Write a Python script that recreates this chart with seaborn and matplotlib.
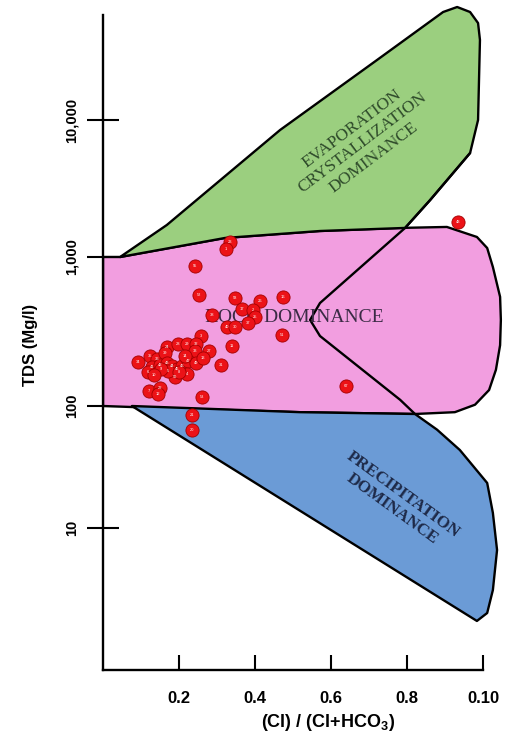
import numpy as np
import matplotlib
matplotlib.use("Agg")
import matplotlib.pyplot as plt
import seaborn as sns
import pandas as pd
from matplotlib.ticker import NullLocator

# ---------------- data ----------------
sample_ids = ["23", "1", "55", "52", "58", "26", "16", "17", "2", "25", "37", "38",
              "40", "30", "51", "3", "11", "27", "31", "53", "21", "20", "7", "22",
              "12", "67", "48", "24", "28", "29", "32", "33", "34", "35", "36", "39",
              "41", "42", "43", "44", "45", "46", "47", "49", "50", "4", "5", "6",
              "8", "9", "10", "13", "14"]
cl_ratio = [0.334, 0.324, 0.242, 0.253, 0.347, 0.413, 0.474, 0.366, 0.395, 0.400, 0.382, 0.287,
            0.326, 0.347, 0.471, 0.258, 0.339, 0.279, 0.311, 0.261, 0.234, 0.234, 0.121, 0.150,
            0.145, 0.639, 0.934, 0.168, 0.197, 0.221, 0.245, 0.242, 0.092, 0.124, 0.142, 0.163,
            0.129, 0.150, 0.168, 0.182, 0.195, 0.208, 0.224, 0.245, 0.189, 0.221, 0.171, 0.118,
            0.200, 0.153, 0.134, 0.263, 0.216]
tds_mg_l = [1290, 1140, 870, 555, 530, 505, 540, 448, 441, 395, 361, 408,
            339, 339, 300, 295, 253, 234, 188, 115, 84, 64, 126, 132,
            120, 136, 1800, 249, 261, 261, 261, 234, 197, 217, 207, 227,
            183, 188, 194, 185, 177, 185, 200, 194, 157, 164, 172, 169,
            169, 177, 161, 210, 217]

# Gibbs field outlines (x = Cl/(Cl+HCO3), y = TDS)
evap_x = [0.045, 0.168, 0.466, 0.721, 0.895, 0.932, 0.966, 0.987, 0.992, 0.987, 0.966,
          0.861, 0.795, 0.571, 0.321, 0.045]
evap_tds = [1000, 1713, 8453, 27400, 61400, 66800, 61400, 51000, 38400, 10000, 5740,
            2606, 1630, 1548, 1377, 1000]
rock_x = [0.0, 0.045, 0.321, 0.571, 0.782, 0.905, 0.984, 1.011, 1.026, 1.045, 1.047,
          1.045, 1.034, 1.016, 0.979, 0.926, 0.821, 0.518, 0.079, 0.0]
rock_tds = [1000, 1000, 1377, 1548, 1630, 1657, 1400, 1163, 857, 540, 378,
            256, 175, 128, 102, 89, 86, 89, 98, 100]
prec_x = [0.076, 0.518, 0.821, 0.879, 0.939, 1.011, 1.026, 1.037, 1.026, 1.011, 0.984, 0.076]
prec_tds = [100, 89, 86, 64, 43.6, 23.4, 13.3, 6.6, 3.1, 2.01, 1.73, 100]
divider_x = [0.966, 0.861, 0.795, 0.571, 0.545, 0.571, 0.782, 0.821]
divider_tds = [5740, 2606, 1630, 491, 378, 295, 110, 86]

x_ticks = [0.2, 0.4, 0.6, 0.8, 1.0]
x_tick_labels = ["0.2", "0.4", "0.6", "0.8", "0.10"]
y_ticks = [10, 100, 1000, 10000]
y_tick_labels = ["10", "100", "1,000", "10,000"]

# ---------------- style ----------------
sns.set_theme(style="white")
plt.rcParams['font.family'] = ['Liberation Sans', 'DejaVu Sans']
plt.rcParams['mathtext.fontset'] = 'custom'
plt.rcParams['mathtext.rm'] = 'Liberation Sans'
plt.rcParams['mathtext.bf'] = 'Liberation Sans:bold'

# hand-drawn log axis: decades are not evenly spaced in the source figure
LOGS = np.array([-3.0, 1.0, 2.0, 3.0, 9.0])
SPOS = np.array([142 - 4 * 122, 142, 264, 413, 413 + 6 * 137], float)


def fwd(y):
    y = np.asarray(y, float)
    return np.interp(np.log10(np.clip(y, 1e-3, None)), LOGS, SPOS)


def inv(s):
    return 10 ** np.interp(np.asarray(s, float), SPOS, LOGS)


fig = plt.figure(figsize=(5.06, 7.36), dpi=100)
fig.patch.set_facecolor("white")
ax = fig.add_axes([103 / 506, 66 / 736, 1.06 * 380 / 506, 667 / 736])
ax.set_facecolor("white")
ax.set_yscale('function', functions=(fwd, inv))
ax.set_xlim(0, 1.06)
ax.set_ylim(float(inv(0)), float(inv(667)))

edge_kw = dict(edgecolor="black", linewidth=1.7, joinstyle="round")
ax.fill(rock_x, rock_tds, facecolor="#f29ee0", zorder=1, **edge_kw)
ax.fill(evap_x, evap_tds, facecolor="#9bcf7f", zorder=1, **edge_kw)
ax.fill(prec_x, prec_tds, facecolor="#6b9bd6", zorder=1, **edge_kw)
ax.plot(divider_x, divider_tds, color="black", linewidth=1.7, zorder=1.5,
        solid_joinstyle="round")

# field names
ax.text(0.476, 0.529, "ROCK DOMINANCE", transform=ax.transAxes, fontsize=14,
        family="Liberation Serif", color="#3b2b45", ha="center", va="center", zorder=2)
ax.text(0.645, 0.790, "EVAPORATION\nCRYSTALLIZATION\nDOMINANCE", transform=ax.transAxes,
        fontsize=12.5, family="Liberation Serif", color="#2e4a2a", ha="center",
        va="center", rotation=37, rotation_mode="anchor", multialignment="center",
        linespacing=1.15, zorder=2)
ax.text(0.732, 0.252, "PRECIPITATION\nDOMINANCE", transform=ax.transAxes,
        fontsize=12.3, family="Liberation Serif", fontweight="bold", color="#1e2a48",
        ha="center", va="center", rotation=-36, rotation_mode="anchor",
        multialignment="center", linespacing=1.15, zorder=2)

# samples
df = pd.DataFrame({"id": sample_ids, "ratio": cl_ratio, "tds": tds_mg_l})
sns.scatterplot(data=df, x="ratio", y="tds", s=90, color="#ec1217",
                edgecolor="#a30000", linewidth=0.6, zorder=3, ax=ax, legend=False)
for r in df.itertuples():
    ax.text(r.ratio, r.tds, r.id, fontsize=2.9, color="white", ha="center",
            va="center", zorder=4)

# axes
for side in ["top", "right"]:
    ax.spines[side].set_visible(False)
for side in ["left", "bottom"]:
    ax.spines[side].set_linewidth(1.7)
    ax.spines[side].set_color("black")
ax.spines["left"].set_bounds(float(inv(0)), float(inv(655)))
ax.spines["bottom"].set_bounds(0, 1.0)

ax.set_xticks(x_ticks, x_tick_labels)
ax.set_yticks(y_ticks, y_tick_labels)
ax.yaxis.set_minor_locator(NullLocator())
ax.xaxis.set_minor_locator(NullLocator())
ax.tick_params(axis="y", left=True, direction="inout", length=23, width=1.5,
               color="black", pad=6, labelsize=10.5, labelrotation=90, labelcolor="black")
ax.tick_params(axis="x", bottom=True, direction="in", length=11, width=1.5,
               color="black", pad=15, labelsize=12, labelcolor="black")
for lab in ax.get_yticklabels():
    lab.set_fontweight("bold")
    lab.set_va("center")
for lab in ax.get_xticklabels():
    lab.set_fontweight("bold")

ax.set_xlabel(r"(Cl) / (Cl+HCO$_\mathbf{3}$)", fontsize=13, fontweight="bold", color="black")
ax.xaxis.set_label_coords(0.558, -0.078)
ax.xaxis.label.set_va("center")
ax.set_ylabel("TDS (Mg/l)", fontsize=12, fontweight="bold", color="black")
ax.yaxis.set_label_coords(-0.181, 0.487)
ax.yaxis.label.set_va("center")

fig.savefig("out.png", dpi=100, facecolor="white")
